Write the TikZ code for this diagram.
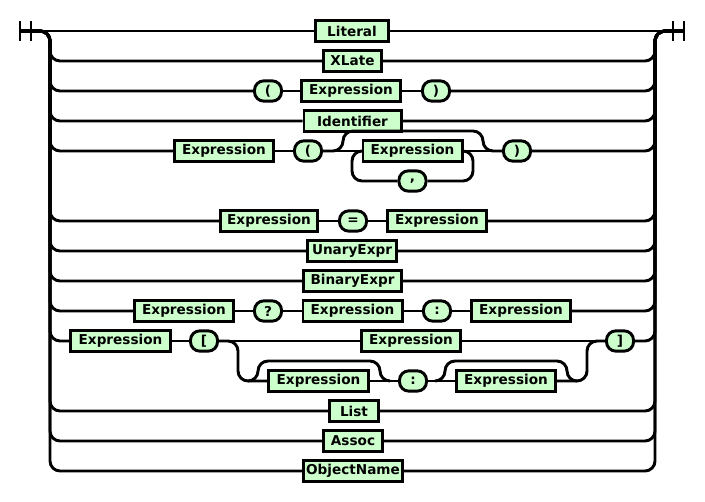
\documentclass[tikz,border=0pt]{standalone}
\usepackage{fontspec}
\usepackage{tikz}
\newfontfamily\railfont{DejaVu Sans}
\definecolor{railgreen}{RGB}{204,255,204}

\begin{document}
\begin{tikzpicture}[
    x=0.75pt, y=-0.75pt,
    rail/.style={line width=2.2pt, rounded corners=7.5pt},
    nonterm/.style={rectangle, draw=black, line width=2.2pt, fill=railgreen, minimum width=#1*0.75pt-2.2pt, minimum height=15.2pt, inner sep=0pt, font=\railfont\bfseries\fontsize{10.2}{12}\selectfont},
    term/.style={nonterm=30, rounded corners=7pt}
]

    \fill[white] (0,0) rectangle (705,502);
    \useasboundingbox (0,0) rectangle (705,502);

    % rails and end markers
    \coordinate (sbar) at (20,31);
    \coordinate (ebar) at (684,31);
    \coordinate (lr) at (50,31);
    \coordinate (rr) at (655,31);

    \node[nonterm=76] (lit) at (352,31) {Literal};
    \node[nonterm=61] (xl) at (352.5,61) {XLate};
    \node[term] (lp3) at (268,91) {(};
    \node[nonterm=102] (e3) at (351,91) {Expression};
    \node[term] (rp3) at (436,91) {)};
    \node[nonterm=100] (idf) at (352.5,121) {Identifier};
    \node[nonterm=102] (e5a) at (224,151) {Expression};
    \node[term] (lp5) at (308,151) {(};
    \node[nonterm=102] (e5b) at (412.5,151) {Expression};
    \node[term] (cm5) at (412.5,181) {,};
    \node[term] (rp5) at (517,151) {)};
    \node[nonterm=100] (e7a) at (269,221) {Expression};
    \node[term] (eq7) at (353,221) {=};
    \node[nonterm=102] (e7b) at (437,221) {Expression};
    \node[nonterm=92] (un) at (352,251) {UnaryExpr};
    \node[nonterm=101] (bin) at (352.5,281) {BinaryExpr};
    \node[nonterm=102] (e10a) at (184,311) {Expression};
    \node[term] (q10) at (268,311) {?};
    \node[nonterm=102] (e10b) at (352.5,311) {Expression};
    \node[term] (c10) at (437,311) {:};
    \node[nonterm=102] (e10c) at (521,311) {Expression};
    \node[nonterm=103] (e11a) at (120.5,341) {Expression};
    \node[term] (lb11) at (204,341) {[};
    \node[nonterm=102] (e11b) at (411,341) {Expression};
    \node[term] (rb11) at (620,341) {]};
    \node[nonterm=103] (e12a) at (318.5,381) {Expression};
    \node[term] (c12) at (413,381) {:};
    \node[nonterm=102] (e12b) at (506,381) {Expression};
    \node[nonterm=52] (lst) at (354,411) {List};
    \node[nonterm=62] (asc) at (353,441) {Assoc};
    \node[nonterm=102] (obj) at (353,471) {ObjectName};

    % start / end bars
    \draw[rail] (sbar) ++(0,-10) -- ++(0,20);
    \draw[rail] (sbar) ++(11,-10) -- ++(0,20);
    \draw[rail] (ebar) ++(0,-10) -- ++(0,20);
    \draw[rail] (ebar) ++(-11,-10) -- ++(0,20);

    \draw[rail] (sbar) -- (lit);
    \draw[rail] (lit) -- (ebar);

    \draw[rail] (sbar) -- (lr) |- (xl);
    \draw[rail] (xl) -| (rr) -- (ebar);

    \draw[rail] (sbar) -- (lr) |- (lp3);
    \draw[rail] (lp3) -- (e3);
    \draw[rail] (e3) -- (rp3);
    \draw[rail] (rp3) -| (rr) -- (ebar);

    \draw[rail] (sbar) -- (lr) |- (idf);
    \draw[rail] (idf) -| (rr) -- (ebar);

    % call with optional argument list
    \coordinate (sk5a) at (343,131);
    \coordinate (sk5b) at (483,131);
    \coordinate (lo5a) at (352,181);
    \coordinate (lo5b) at (473,181);
    \draw[rail] (sbar) -- (lr) |- (e5a);
    \draw[rail] (e5a) -- (lp5);
    \draw[rail] (lp5) -- (e5b);
    \draw[rail] (e5b) -- (rp5);
    \draw[rail] (lp5) -| (sk5a) -- (sk5b) |- (rp5);
    \draw[rail] (e5b) -| (lo5a) -- (cm5) -- (lo5b) |- (e5b);
    \draw[rail] (rp5) -| (rr) -- (ebar);

    \draw[rail] (sbar) -- (lr) |- (e7a);
    \draw[rail] (e7a) -- (eq7);
    \draw[rail] (eq7) -- (e7b);
    \draw[rail] (e7b) -| (rr) -- (ebar);

    \draw[rail] (sbar) -- (lr) |- (un);
    \draw[rail] (un) -| (rr) -- (ebar);

    \draw[rail] (sbar) -- (lr) |- (bin);
    \draw[rail] (bin) -| (rr) -- (ebar);

    \draw[rail] (sbar) -- (lr) |- (e10a);
    \draw[rail] (e10a) -- (q10);
    \draw[rail] (q10) -- (e10b);
    \draw[rail] (e10b) -- (c10);
    \draw[rail] (c10) -- (e10c);
    \draw[rail] (e10c) -| (rr) -- (ebar);

    % index / slice
    \coordinate (br11a) at (238,381);
    \coordinate (br11b) at (587,341);
    \coordinate (j12a) at (248,381);
    \coordinate (sk12a) at (258,361);
    \coordinate (sk12b) at (380,361);
    \coordinate (j12b) at (390,381);
    \coordinate (j12c) at (435,381);
    \coordinate (sk12c) at (445,361);
    \coordinate (sk12d) at (567,361);
    \coordinate (j12d) at (577,381);
    \draw[rail] (sbar) -- (lr) |- (e11a);
    \draw[rail] (e11a) -- (lb11);
    \draw[rail] (lb11) -- (e11b);
    \draw[rail] (e11b) -- (rb11);
    \draw[rail] (lb11) -| (br11a) -- (e12a);
    \draw[rail] (e12a) -- (c12);
    \draw[rail] (c12) -- (e12b);
    \draw[rail] (e12b) -| (br11b) -- (rb11);
    \draw[rail] (j12a) -| (sk12a) -- (sk12b) |- (j12b);
    \draw[rail] (j12c) -| (sk12c) -- (sk12d) |- (j12d);
    \draw[rail] (rb11) -| (rr) -- (ebar);

    \draw[rail] (sbar) -- (lr) |- (lst);
    \draw[rail] (lst) -| (rr) -- (ebar);

    \draw[rail] (sbar) -- (lr) |- (asc);
    \draw[rail] (asc) -| (rr) -- (ebar);

    \draw[rail] (sbar) -- (lr) |- (obj);
    \draw[rail] (obj) -| (rr) -- (ebar);

\end{tikzpicture}
\end{document}
